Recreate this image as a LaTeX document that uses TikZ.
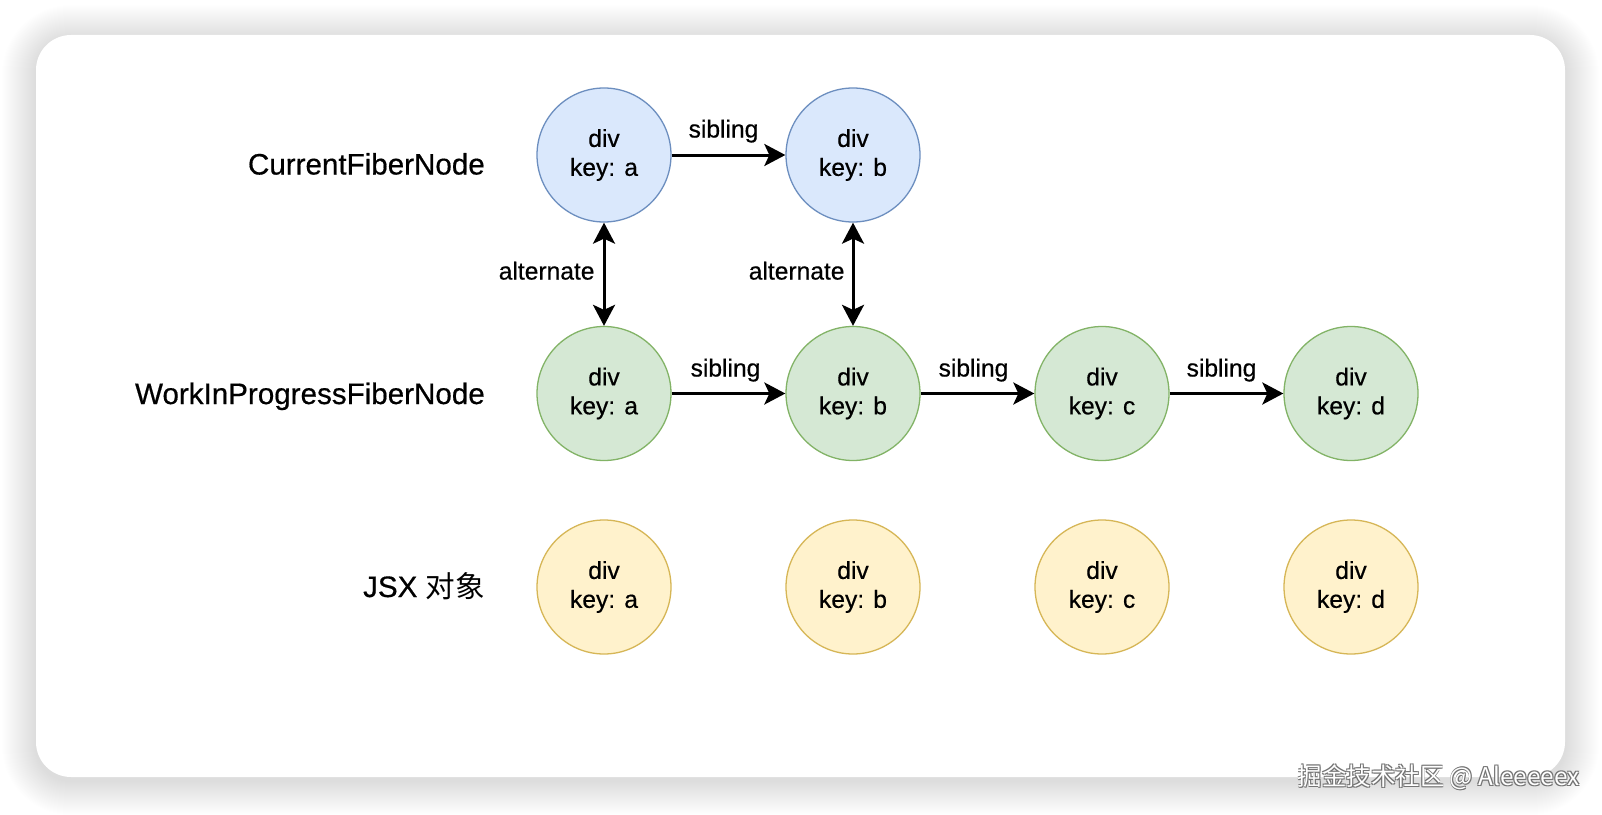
\documentclass[tikz,border=0pt]{standalone}
\usepackage{fontspec}
\setmainfont{Liberation Sans}[RawFeature={embolden=0.5}]
\newfontfamily\cjk{Noto Sans CJK SC}
\usetikzlibrary{arrows.meta}
\definecolor{bfill}{HTML}{DAE8FC}
\definecolor{bdraw}{HTML}{6C8EBF}
\definecolor{gfill}{HTML}{D5E8D4}
\definecolor{gdraw}{HTML}{82B366}
\definecolor{yfill}{HTML}{FFF2CC}
\definecolor{ydraw}{HTML}{D6B656}
\tikzset{
  fnode/.style={circle, minimum size=134bp, inner sep=0pt, line width=1.3bp,
    align=center, font=\fontsize{24.7}{29}\selectfont},
  bluenode/.style={fnode, fill=bfill, draw=bdraw},
  greennode/.style={fnode, fill=gfill, draw=gdraw},
  yellownode/.style={fnode, fill=yfill, draw=ydraw},
  rowlbl/.style={anchor=base east, inner sep=0pt, font=\fontsize{29.7}{34}\selectfont},
  elbl/.style={inner sep=0pt, font=\fontsize{24.7}{29}\selectfont},
  tipb/.tip={Stealth[length=21bp,width=22bp,inset=5bp]},
  conn/.style={line width=3bp, -tipb},
  dconn/.style={line width=3bp, tipb-tipb},
  wm/.style={anchor=east, inner sep=0pt, font=\cjk\fontsize{24.5}{28}\selectfont}
}
\begin{document}
\begin{tikzpicture}[x=1bp,y=-1bp]
\useasboundingbox (0,0) rectangle (1602,814);
\fill[white] (0,0) rectangle (1602,814);
% card shadow
\foreach \i in {1,...,34}{
  \fill[black, opacity=0.0029, rounded corners={35bp+\i bp}]
    (36-\i,35-\i+4) rectangle (1565+\i,777+\i+4);
}
\fill[white, rounded corners=35bp] (36,35) rectangle (1565,777);

% row labels
\node[rowlbl] (l1) at (485,174.5) {CurrentFiberNode};
\node[rowlbl] (l2) at (485,404) {WorkInProgressFiberNode};
\node[rowlbl] (l3) at (485,597) {JSX {\cjk 对象}};

% nodes
\node[bluenode] (ca) at (604,155) {div\\key: a};
\node[bluenode] (cb) at (853,155) {div\\key: b};
\node[greennode] (wa) at (604,393.5) {div\\key: a};
\node[greennode] (wb) at (853,393.5) {div\\key: b};
\node[greennode] (wc) at (1102,393.5) {div\\key: c};
\node[greennode] (wd) at (1351,393.5) {div\\key: d};
\node[yellownode] (ja) at (604,587) {div\\key: a};
\node[yellownode] (jb) at (853,587) {div\\key: b};
\node[yellownode] (jc) at (1102,587) {div\\key: c};
\node[yellownode] (jd) at (1351,587) {div\\key: d};

% connectors
\draw[conn] (ca) -- node[elbl, anchor=base, xshift=-5bp, yshift=17.5bp] {sibling} (cb);
\draw[conn] (wa) -- node[elbl, anchor=base, xshift=-3bp, yshift=17bp] {sibling} (wb);
\draw[conn] (wb) -- node[elbl, anchor=base, xshift=-4bp, yshift=17bp] {sibling} (wc);
\draw[conn] (wc) -- node[elbl, anchor=base, xshift=-5bp, yshift=17bp] {sibling} (wd);
\draw[dconn] (ca) -- node[elbl, anchor=base east, xshift=-8bp, yshift=-5.3bp] {alternate} (wa);
\draw[dconn] (cb) -- node[elbl, anchor=base east, xshift=-7bp, yshift=-5.3bp] {alternate} (wb);

% watermark
\foreach \dx/\dy in {0.9/0.9,-0.9/0.9,0.9/-0.9,-0.9/-0.9}{
  \node[wm, text=black!55] at (1580+\dx,777+\dy) {掘金技术社区 @ Aleeeeex};
}
\node[wm, text=white] (wmk) at (1580,777) {掘金技术社区 @ Aleeeeex};
\end{tikzpicture}
\end{document}
